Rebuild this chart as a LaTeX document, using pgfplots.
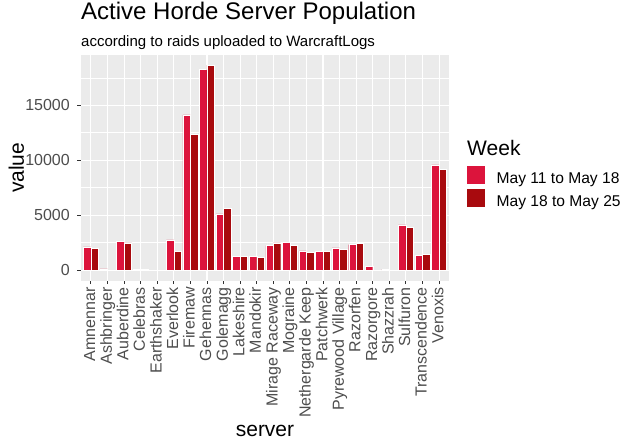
\documentclass[border=0pt]{standalone}
\usepackage{pgfplots}
\pgfplotsset{compat=1.18}
\usepackage{fontspec}
\setmainfont{Liberation Sans}

\definecolor{wkA}{RGB}{220,20,60}
\definecolor{wkB}{RGB}{168,10,14}
\definecolor{panelbg}{RGB}{235,235,235}
\definecolor{tickcol}{RGB}{51,51,51}
\definecolor{labcol}{RGB}{77,77,77}

\begin{document}
\begin{tikzpicture}
\useasboundingbox (0,0) rectangle (640bp,448bp);
\begin{axis}[
    at={(81bp,167.5bp)}, anchor=south west,
    scale only axis,
    width=368bp, height=225.5bp,
    ybar=0pt, bar width=0.45,
    xmin=-0.6, xmax=21.6,
    ymin=-932, ymax=19572,
    xtick={0,...,21},
    xticklabels={Amnennar,Ashbringer,Auberdine,Celebras,Earthshaker,Everlook,Firemaw,Gehennas,Golemagg,Lakeshire,Mandokir,Mirage Raceway,Mograine,Nethergarde Keep,Patchwerk,Pyrewood Village,Razorfen,Razorgore,Shazzrah,Sulfuron,Transcendence,Venoxis},
    ytick={0,5000,10000,15000},
    minor ytick={2500,7500,12500,17500},
    scaled y ticks=false,
    /pgf/number format/assume math mode=true,
    /pgf/number format/set thousands separator={},
    axis background/.style={fill=panelbg},
    axis line style={draw=none},
    xmajorgrids, ymajorgrids, yminorgrids,
    major grid style={white, line width=1.1bp},
    minor grid style={white, line width=0.55bp},
    tick align=outside,
    xtick pos=bottom, ytick pos=left,
    major tick length=3.5bp, minor tick length=0pt,
    tick style={tickcol, line width=0.9bp},
    yticklabel shift=7.5bp, xticklabel shift=3bp,
    yticklabel style={font=\fontsize{16bp}{19bp}\selectfont, color=labcol, inner sep=0pt, anchor=east},
    xticklabel style={font=\fontsize{16bp}{19bp}\selectfont, color=labcol, inner sep=0pt,
        rotate=90, anchor=east, text height=11.5bp, text depth=3bp},
    xlabel={server},
    ylabel={value},
    xlabel style={font=\fontsize{21bp}{25bp}\selectfont, at={(axis description cs:0.5,-0.694)}, anchor=base},
    ylabel style={font=\fontsize{21bp}{25bp}\selectfont, at={(axis description cs:-0.1549,0.5)}, anchor=base, rotate=0},
    title={Active Horde Server Population},
    title style={font=\fontsize{24bp}{28bp}\selectfont, at={(axis description cs:0,1.133)}, anchor=base west, inner sep=0pt},
    legend style={at={(axis description cs:1.049,0.508)}, anchor=north west,
        draw=none, fill=none, inner sep=0pt, row sep=0bp,
        font=\fontsize{15.6bp}{18bp}\selectfont,
        nodes={inner sep=0pt, text height=12bp, text depth=6bp}, column sep=12bp},
    legend cell align=left,
    clip=false,
]
\addplot[fill=wkA, draw=white, line width=0.4bp, bar shift=-0.225, forget plot] coordinates {
    (0,2120) (1,120) (2,2600) (3,100) (5,2760) (6,14120) (7,18270) (8,5120)
    (9,1270) (10,1270) (11,2240) (12,2540) (13,1760) (14,1700) (15,2030)
    (16,2330) (17,330) (18,80) (19,4120) (20,1330) (21,9580)
};
\addplot[fill=wkB, draw=white, line width=0.4bp, bar shift=0.225, forget plot] coordinates {
    (0,1970) (2,2480) (3,100) (5,1730) (6,12360) (7,18640) (8,5600)
    (9,1270) (10,1180) (11,2480) (12,2270) (13,1640) (14,1700) (15,1910)
    (16,2420) (19,3910) (20,1420) (21,9180)
};
\addlegendimage{legend image code/.code={\fill[wkA] (0bp,-3bp) rectangle (17bp,14bp);}}
\addlegendentry{May 11 to May 18}
\addlegendimage{legend image code/.code={\fill[wkB] (0bp,-3bp) rectangle (17bp,14bp);}}
\addlegendentry{May 18 to May 25}
\node[font=\fontsize{15bp}{18bp}\selectfont, anchor=base west, inner sep=0pt]
    at (axis description cs:0,1.0355) {according to raids uploaded to WarcraftLogs};
\node[font=\fontsize{21bp}{25bp}\selectfont, anchor=base west, inner sep=0pt]
    at (axis description cs:1.049,0.5565) {Week};
\end{axis}
\end{tikzpicture}
\end{document}
